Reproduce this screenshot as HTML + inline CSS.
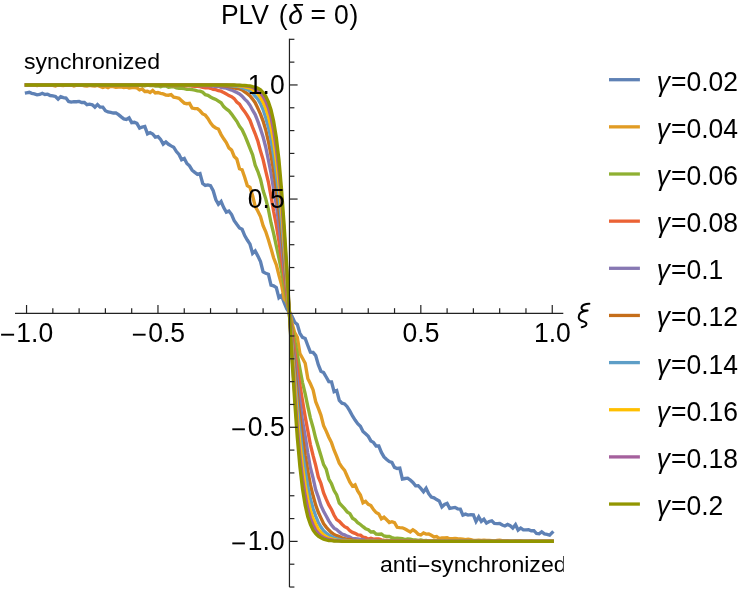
<!DOCTYPE html>
<html><head><meta charset="utf-8"><title>PLV</title>
<style>
html,body{margin:0;padding:0;background:#fff;}
body{width:747px;height:590px;overflow:hidden;font-family:"Liberation Sans",sans-serif;}
svg{display:block;will-change:transform;}
text{font-family:"Liberation Sans",sans-serif;fill:#000;}
</style></head><body>
<svg width="747" height="590" viewBox="0 0 747 590">
<defs><clipPath id="cp"><rect x="14" y="38" width="549.7" height="552"/></clipPath></defs>
<rect width="747" height="590" fill="#fff"/>
<g fill="none" stroke-width="3.35" stroke-linejoin="miter" stroke-linecap="square" clip-path="url(#cp)">
<path d="M26.5 92.8 L29.2 92.3 L31.8 93.4 L34.4 93.9 L37.1 94.9 L39.7 94.5 L42.3 93.3 L44.9 94.5 L47.6 94.2 L50.2 95.5 L52.8 95.8 L55.5 96.5 L58.1 99.2 L60.7 96.6 L63.3 97.6 L66.0 98.1 L68.6 101.5 L71.2 102.1 L73.9 101.6 L76.5 101.7 L79.1 101.4 L81.7 102.5 L84.4 102.4 L87.0 104.7 L89.6 104.2 L92.3 104.8 L94.9 107.1 L97.5 104.6 L100.1 107.1 L102.8 107.1 L105.4 110.7 L108.0 111.9 L110.7 112.3 L113.3 113.0 L115.9 112.9 L118.5 114.6 L121.2 116.9 L123.8 118.9 L126.4 119.5 L129.1 117.9 L131.7 122.6 L134.3 122.3 L136.9 123.4 L139.6 128.1 L142.2 127.0 L144.8 126.4 L147.5 133.9 L150.1 132.6 L152.7 134.0 L155.3 137.1 L158.0 136.6 L160.6 139.5 L163.2 144.1 L165.9 141.9 L168.5 144.3 L171.1 145.9 L173.7 147.2 L176.4 151.6 L179.0 154.4 L181.6 159.7 L184.3 158.4 L186.9 163.4 L189.5 165.8 L192.1 170.2 L194.8 172.4 L197.4 174.3 L200.0 173.5 L202.7 183.5 L205.3 185.4 L207.9 184.9 L210.5 185.6 L213.2 190.7 L215.8 199.5 L218.4 204.3 L221.1 201.5 L223.7 207.6 L226.3 212.1 L228.9 211.1 L231.6 214.6 L234.2 220.6 L236.8 224.3 L239.5 227.9 L242.1 229.3 L244.7 235.6 L247.3 240.0 L250.0 244.2 L252.6 253.4 L255.2 251.0 L257.9 256.1 L260.5 261.5 L263.1 271.9 L265.7 273.2 L268.4 274.2 L271.0 285.1 L273.6 285.8 L276.3 287.5 L278.9 297.7 L281.5 295.4 L284.1 302.5 L286.8 308.9 L289.4 312.4 L292.0 316.3 L294.7 322.2 L297.3 324.4 L299.9 333.3 L302.5 337.4 L305.2 338.5 L307.8 345.5 L310.4 352.2 L313.1 352.4 L315.7 355.6 L318.3 364.6 L320.9 371.2 L323.6 372.6 L326.2 377.0 L328.8 381.6 L331.5 381.9 L334.1 391.7 L336.7 390.5 L339.3 400.4 L342.0 403.2 L344.6 403.9 L347.2 406.7 L349.9 411.1 L352.5 416.0 L355.1 420.1 L357.7 423.7 L360.4 426.3 L363.0 431.4 L365.6 433.8 L368.3 436.4 L370.9 440.9 L373.5 442.4 L376.1 446.0 L378.8 446.0 L381.4 452.4 L384.0 456.9 L386.7 459.5 L389.3 461.5 L391.9 462.3 L394.5 467.4 L397.2 468.5 L399.8 468.1 L402.4 479.1 L405.1 478.5 L407.7 478.2 L410.3 480.0 L412.9 482.5 L415.6 485.8 L418.2 485.7 L420.8 488.4 L423.5 491.7 L426.1 488.2 L428.7 493.7 L431.3 497.0 L434.0 497.8 L436.6 499.6 L439.2 500.9 L441.9 506.9 L444.5 504.5 L447.1 503.4 L449.7 508.3 L452.4 507.8 L455.0 507.4 L457.6 508.8 L460.3 509.0 L462.9 515.1 L465.5 514.1 L468.1 515.1 L470.8 514.7 L473.4 514.9 L476.0 521.5 L478.7 516.8 L481.3 521.4 L483.9 519.2 L486.5 523.1 L489.2 521.5 L491.8 520.8 L494.4 523.4 L497.1 523.6 L499.7 523.5 L502.3 525.0 L504.9 526.0 L507.6 524.5 L510.2 525.7 L512.8 528.0 L515.5 524.7 L518.1 530.1 L520.7 528.0 L523.3 529.9 L526.0 529.9 L528.6 529.7 L531.2 530.7 L533.9 530.6 L536.5 533.5 L539.1 533.8 L541.7 531.8 L544.4 533.9 L547.0 534.3 L549.6 535.1 L552.2 532.5" stroke="#5E81B5"/>
<path d="M26.5 85.0 L29.2 85.0 L31.8 85.4 L34.4 85.1 L37.1 85.5 L39.7 85.0 L42.3 85.0 L44.9 85.4 L47.6 85.0 L50.2 85.0 L52.8 85.3 L55.5 85.9 L58.1 85.0 L60.7 85.4 L63.3 85.6 L66.0 85.2 L68.6 85.3 L71.2 85.0 L73.9 85.9 L76.5 85.1 L79.1 85.0 L81.7 85.1 L84.4 85.8 L87.0 86.1 L89.6 85.4 L92.3 85.9 L94.9 86.0 L97.5 85.4 L100.1 86.4 L102.8 87.5 L105.4 86.7 L108.0 87.6 L110.7 86.3 L113.3 86.7 L115.9 87.4 L118.5 87.2 L121.2 86.9 L123.8 87.6 L126.4 87.0 L129.1 88.1 L131.7 87.6 L134.3 87.6 L136.9 87.8 L139.6 89.8 L142.2 89.0 L144.8 91.5 L147.5 91.3 L150.1 92.5 L152.7 90.5 L155.3 93.0 L158.0 92.5 L160.6 93.3 L163.2 93.9 L165.9 95.1 L168.5 95.2 L171.1 94.5 L173.7 97.2 L176.4 97.7 L179.0 98.3 L181.6 100.7 L184.3 103.1 L186.9 103.7 L189.5 103.4 L192.1 108.1 L194.8 108.6 L197.4 108.6 L200.0 110.8 L202.7 113.9 L205.3 115.1 L207.9 118.4 L210.5 122.9 L213.2 126.2 L215.8 128.0 L218.4 129.0 L221.1 134.6 L223.7 138.8 L226.3 142.5 L228.9 147.9 L231.6 150.1 L234.2 156.5 L236.8 159.0 L239.5 168.7 L242.1 169.8 L244.7 177.3 L247.3 185.6 L250.0 187.4 L252.6 195.8 L255.2 206.3 L257.9 211.2 L260.5 216.6 L263.1 225.7 L265.7 231.5 L268.4 239.8 L271.0 248.4 L273.6 257.8 L276.3 264.7 L278.9 275.0 L281.5 284.5 L284.1 298.6 L286.8 302.1 L289.4 310.6 L292.0 323.1 L294.7 332.7 L297.3 337.2 L299.9 353.5 L302.5 358.2 L305.2 363.3 L307.8 378.4 L310.4 383.8 L313.1 389.9 L315.7 401.7 L318.3 408.2 L320.9 415.1 L323.6 425.6 L326.2 431.1 L328.8 437.2 L331.5 442.6 L334.1 450.2 L336.7 456.3 L339.3 463.2 L342.0 467.3 L344.6 470.3 L347.2 476.2 L349.9 482.1 L352.5 486.2 L355.1 484.9 L357.7 490.9 L360.4 495.1 L363.0 502.8 L365.6 501.4 L368.3 504.4 L370.9 505.5 L373.5 509.6 L376.1 512.5 L378.8 513.9 L381.4 518.9 L384.0 517.2 L386.7 519.8 L389.3 522.5 L391.9 521.7 L394.5 522.6 L397.2 527.3 L399.8 527.7 L402.4 527.8 L405.1 529.0 L407.7 530.5 L410.3 531.9 L412.9 529.8 L415.6 531.6 L418.2 534.2 L420.8 535.0 L423.5 533.0 L426.1 534.1 L428.7 534.0 L431.3 535.3 L434.0 537.0 L436.6 536.5 L439.2 538.6 L441.9 537.9 L444.5 537.8 L447.1 537.7 L449.7 538.7 L452.4 538.6 L455.0 538.4 L457.6 538.7 L460.3 538.8 L462.9 539.2 L465.5 539.7 L468.1 539.2 L470.8 539.7 L473.4 540.3 L476.0 540.3 L478.7 540.1 L481.3 540.3 L483.9 540.2 L486.5 540.4 L489.2 540.4 L491.8 540.6 L494.4 541.2 L497.1 540.5 L499.7 540.3 L502.3 540.6 L504.9 540.9 L507.6 540.7 L510.2 541.3 L512.8 541.4 L515.5 541.0 L518.1 541.3 L520.7 540.8 L523.3 541.4 L526.0 541.4 L528.6 541.4 L531.2 540.7 L533.9 541.3 L536.5 541.4 L539.1 541.4 L541.7 541.1 L544.4 541.1 L547.0 541.2 L549.6 540.9 L552.2 541.1" stroke="#E19C24"/>
<path d="M26.5 85.0 L29.2 85.0 L31.8 85.0 L34.4 85.0 L37.1 85.0 L39.7 85.0 L42.3 85.0 L44.9 85.0 L47.6 85.0 L50.2 85.0 L52.8 85.0 L55.5 85.0 L58.1 85.0 L60.7 85.0 L63.3 85.0 L66.0 85.0 L68.6 85.0 L71.2 85.0 L73.9 85.0 L76.5 85.0 L79.1 85.0 L81.7 85.0 L84.4 85.1 L87.0 85.0 L89.6 85.0 L92.3 85.0 L94.9 85.0 L97.5 85.0 L100.1 85.0 L102.8 85.0 L105.4 85.0 L108.0 85.0 L110.7 85.1 L113.3 85.0 L115.9 85.3 L118.5 85.2 L121.2 85.1 L123.8 85.4 L126.4 85.3 L129.1 85.6 L131.7 85.4 L134.3 85.2 L136.9 85.2 L139.6 85.4 L142.2 85.5 L144.8 85.9 L147.5 85.1 L150.1 85.5 L152.7 85.4 L155.3 86.1 L158.0 86.0 L160.6 86.7 L163.2 86.0 L165.9 86.1 L168.5 87.3 L171.1 86.8 L173.7 86.8 L176.4 88.0 L179.0 88.4 L181.6 88.4 L184.3 88.6 L186.9 89.4 L189.5 89.3 L192.1 89.7 L194.8 90.1 L197.4 90.8 L200.0 91.1 L202.7 92.2 L205.3 94.7 L207.9 95.3 L210.5 97.0 L213.2 98.4 L215.8 99.4 L218.4 101.1 L221.1 102.8 L223.7 106.6 L226.3 108.9 L228.9 110.8 L231.6 114.1 L234.2 117.7 L236.8 121.3 L239.5 126.3 L242.1 129.7 L244.7 135.2 L247.3 141.5 L250.0 148.4 L252.6 154.8 L255.2 165.2 L257.9 171.5 L260.5 179.1 L263.1 190.5 L265.7 198.6 L268.4 209.4 L271.0 222.7 L273.6 233.3 L276.3 245.8 L278.9 257.8 L281.5 270.9 L284.1 285.4 L286.8 300.3 L289.4 313.4 L292.0 327.2 L294.7 340.0 L297.3 354.2 L299.9 368.9 L302.5 382.6 L305.2 393.9 L307.8 406.3 L310.4 418.1 L313.1 427.7 L315.7 438.3 L318.3 447.0 L320.9 455.4 L323.6 464.6 L326.2 469.2 L328.8 479.0 L331.5 483.8 L334.1 490.6 L336.7 494.9 L339.3 503.0 L342.0 505.8 L344.6 508.7 L347.2 511.9 L349.9 513.7 L352.5 518.2 L355.1 519.9 L357.7 522.6 L360.4 524.5 L363.0 526.7 L365.6 528.7 L368.3 529.7 L370.9 532.0 L373.5 531.8 L376.1 534.1 L378.8 534.2 L381.4 534.0 L384.0 536.0 L386.7 536.5 L389.3 536.5 L391.9 537.6 L394.5 538.4 L397.2 538.3 L399.8 538.5 L402.4 538.7 L405.1 539.6 L407.7 538.9 L410.3 539.1 L412.9 539.9 L415.6 540.0 L418.2 540.4 L420.8 539.9 L423.5 540.7 L426.1 540.4 L428.7 540.8 L431.3 541.0 L434.0 540.7 L436.6 540.6 L439.2 541.0 L441.9 541.2 L444.5 540.9 L447.1 541.1 L449.7 541.1 L452.4 540.8 L455.0 541.0 L457.6 541.3 L460.3 540.8 L462.9 541.2 L465.5 541.1 L468.1 541.4 L470.8 541.3 L473.4 541.4 L476.0 541.0 L478.7 541.1 L481.3 541.4 L483.9 541.4 L486.5 541.4 L489.2 541.2 L491.8 541.4 L494.4 541.4 L497.1 541.4 L499.7 541.4 L502.3 541.4 L504.9 541.4 L507.6 541.4 L510.2 541.4 L512.8 541.3 L515.5 541.3 L518.1 541.4 L520.7 541.4 L523.3 541.4 L526.0 541.4 L528.6 541.3 L531.2 541.3 L533.9 541.4 L536.5 541.4 L539.1 541.4 L541.7 541.4 L544.4 541.4 L547.0 541.4 L549.6 541.4 L552.2 541.4" stroke="#8FB032"/>
<path d="M26.5 85.0 L29.2 85.0 L31.8 85.0 L34.4 85.0 L37.1 85.0 L39.7 85.0 L42.3 85.0 L44.9 85.0 L47.6 85.0 L50.2 85.0 L52.8 85.0 L55.5 85.0 L58.1 85.0 L60.7 85.0 L63.3 85.0 L66.0 85.0 L68.6 85.0 L71.2 85.0 L73.9 85.0 L76.5 85.0 L79.1 85.0 L81.7 85.0 L84.4 85.0 L87.0 85.0 L89.6 85.0 L92.3 85.0 L94.9 85.0 L97.5 85.0 L100.1 85.0 L102.8 85.0 L105.4 85.0 L108.0 85.0 L110.7 85.0 L113.3 85.0 L115.9 85.0 L118.5 85.0 L121.2 85.0 L123.8 85.0 L126.4 85.0 L129.1 85.0 L131.7 85.0 L134.3 85.0 L136.9 85.0 L139.6 85.1 L142.2 85.0 L144.8 85.0 L147.5 85.2 L150.1 85.0 L152.7 85.1 L155.3 85.0 L158.0 85.0 L160.6 85.3 L163.2 85.2 L165.9 85.0 L168.5 85.3 L171.1 85.4 L173.7 85.5 L176.4 85.6 L179.0 85.4 L181.6 85.2 L184.3 85.5 L186.9 85.7 L189.5 85.4 L192.1 86.2 L194.8 86.4 L197.4 86.3 L200.0 86.6 L202.7 87.3 L205.3 87.8 L207.9 87.7 L210.5 88.3 L213.2 89.4 L215.8 89.7 L218.4 90.7 L221.1 91.2 L223.7 92.6 L226.3 93.9 L228.9 95.6 L231.6 96.7 L234.2 98.6 L236.8 102.0 L239.5 104.1 L242.1 108.4 L244.7 111.7 L247.3 115.7 L250.0 120.3 L252.6 127.4 L255.2 133.8 L257.9 141.2 L260.5 151.1 L263.1 159.6 L265.7 170.9 L268.4 182.0 L271.0 196.3 L273.6 211.3 L276.3 224.9 L278.9 241.0 L281.5 258.9 L284.1 275.4 L286.8 294.8 L289.4 313.8 L292.0 331.3 L294.7 351.6 L297.3 368.6 L299.9 385.1 L302.5 400.7 L305.2 416.9 L307.8 430.7 L310.4 444.6 L313.1 455.7 L315.7 465.4 L318.3 476.9 L320.9 483.2 L323.6 493.0 L326.2 499.2 L328.8 504.9 L331.5 509.5 L334.1 515.3 L336.7 519.6 L339.3 521.4 L342.0 524.2 L344.6 526.7 L347.2 527.9 L349.9 530.8 L352.5 532.4 L355.1 533.4 L357.7 534.8 L360.4 535.2 L363.0 537.2 L365.6 537.5 L368.3 539.1 L370.9 538.3 L373.5 539.1 L376.1 539.0 L378.8 539.0 L381.4 539.9 L384.0 540.2 L386.7 540.4 L389.3 540.7 L391.9 540.7 L394.5 540.6 L397.2 540.8 L399.8 540.9 L402.4 541.0 L405.1 540.9 L407.7 541.0 L410.3 541.2 L412.9 541.1 L415.6 541.2 L418.2 541.4 L420.8 541.1 L423.5 541.2 L426.1 541.4 L428.7 541.2 L431.3 541.3 L434.0 541.4 L436.6 541.2 L439.2 541.3 L441.9 541.3 L444.5 541.3 L447.1 541.4 L449.7 541.4 L452.4 541.3 L455.0 541.4 L457.6 541.4 L460.3 541.4 L462.9 541.4 L465.5 541.3 L468.1 541.4 L470.8 541.4 L473.4 541.4 L476.0 541.4 L478.7 541.4 L481.3 541.3 L483.9 541.4 L486.5 541.4 L489.2 541.3 L491.8 541.4 L494.4 541.4 L497.1 541.3 L499.7 541.4 L502.3 541.4 L504.9 541.4 L507.6 541.4 L510.2 541.4 L512.8 541.4 L515.5 541.4 L518.1 541.3 L520.7 541.4 L523.3 541.4 L526.0 541.4 L528.6 541.4 L531.2 541.4 L533.9 541.4 L536.5 541.4 L539.1 541.4 L541.7 541.4 L544.4 541.4 L547.0 541.4 L549.6 541.4 L552.2 541.4" stroke="#EB6235"/>
<path d="M26.5 85.0 L29.2 85.0 L31.8 85.0 L34.4 85.0 L37.1 85.0 L39.7 85.0 L42.3 85.0 L44.9 85.0 L47.6 85.0 L50.2 85.0 L52.8 85.0 L55.5 85.0 L58.1 85.0 L60.7 85.0 L63.3 85.0 L66.0 85.0 L68.6 85.0 L71.2 85.0 L73.9 85.0 L76.5 85.0 L79.1 85.0 L81.7 85.0 L84.4 85.0 L87.0 85.0 L89.6 85.0 L92.3 85.0 L94.9 85.0 L97.5 85.0 L100.1 85.0 L102.8 85.0 L105.4 85.0 L108.0 85.0 L110.7 85.0 L113.3 85.0 L115.9 85.0 L118.5 85.0 L121.2 85.0 L123.8 85.0 L126.4 85.0 L129.1 85.0 L131.7 85.0 L134.3 85.0 L136.9 85.0 L139.6 85.0 L142.2 85.0 L144.8 85.0 L147.5 85.0 L150.1 85.0 L152.7 85.0 L155.3 85.0 L158.0 85.0 L160.6 85.1 L163.2 85.0 L165.9 85.0 L168.5 85.0 L171.1 85.0 L173.7 85.0 L176.4 85.0 L179.0 85.0 L181.6 85.1 L184.3 85.0 L186.9 85.2 L189.5 85.2 L192.1 85.0 L194.8 85.2 L197.4 85.3 L200.0 85.6 L202.7 85.6 L205.3 85.6 L207.9 85.6 L210.5 85.9 L213.2 86.1 L215.8 86.5 L218.4 86.5 L221.1 87.3 L223.7 87.8 L226.3 88.1 L228.9 89.1 L231.6 90.1 L234.2 91.3 L236.8 92.6 L239.5 94.0 L242.1 96.1 L244.7 99.2 L247.3 101.6 L250.0 105.3 L252.6 110.2 L255.2 114.6 L257.9 121.4 L260.5 128.9 L263.1 137.0 L265.7 147.0 L268.4 160.0 L271.0 173.0 L273.6 189.2 L276.3 204.4 L278.9 225.2 L281.5 244.6 L284.1 267.7 L286.8 289.4 L289.4 311.5 L292.0 338.2 L294.7 359.4 L297.3 380.5 L299.9 401.5 L302.5 420.9 L305.2 436.3 L307.8 453.1 L310.4 467.7 L313.1 478.1 L315.7 489.8 L318.3 497.0 L320.9 505.4 L323.6 511.3 L326.2 516.0 L328.8 520.9 L331.5 525.1 L334.1 528.2 L336.7 529.6 L339.3 531.9 L342.0 534.1 L344.6 534.9 L347.2 536.2 L349.9 537.1 L352.5 538.6 L355.1 538.7 L357.7 538.9 L360.4 539.4 L363.0 539.7 L365.6 540.6 L368.3 540.4 L370.9 540.5 L373.5 540.3 L376.1 541.0 L378.8 541.0 L381.4 541.0 L384.0 541.0 L386.7 541.2 L389.3 541.1 L391.9 541.3 L394.5 541.2 L397.2 541.3 L399.8 541.3 L402.4 541.4 L405.1 541.4 L407.7 541.3 L410.3 541.3 L412.9 541.4 L415.6 541.4 L418.2 541.3 L420.8 541.4 L423.5 541.4 L426.1 541.4 L428.7 541.4 L431.3 541.4 L434.0 541.4 L436.6 541.3 L439.2 541.4 L441.9 541.4 L444.5 541.4 L447.1 541.4 L449.7 541.4 L452.4 541.4 L455.0 541.4 L457.6 541.4 L460.3 541.4 L462.9 541.4 L465.5 541.4 L468.1 541.4 L470.8 541.4 L473.4 541.4 L476.0 541.4 L478.7 541.4 L481.3 541.4 L483.9 541.4 L486.5 541.4 L489.2 541.4 L491.8 541.4 L494.4 541.4 L497.1 541.4 L499.7 541.4 L502.3 541.4 L504.9 541.4 L507.6 541.4 L510.2 541.4 L512.8 541.4 L515.5 541.4 L518.1 541.4 L520.7 541.4 L523.3 541.4 L526.0 541.4 L528.6 541.4 L531.2 541.4 L533.9 541.4 L536.5 541.4 L539.1 541.4 L541.7 541.4 L544.4 541.4 L547.0 541.4 L549.6 541.4 L552.2 541.4" stroke="#8778B3"/>
<path d="M26.5 85.0 L29.2 85.0 L31.8 85.0 L34.4 85.0 L37.1 85.0 L39.7 85.0 L42.3 85.0 L44.9 85.0 L47.6 85.0 L50.2 85.0 L52.8 85.0 L55.5 85.0 L58.1 85.0 L60.7 85.0 L63.3 85.0 L66.0 85.0 L68.6 85.0 L71.2 85.0 L73.9 85.0 L76.5 85.0 L79.1 85.0 L81.7 85.0 L84.4 85.0 L87.0 85.0 L89.6 85.0 L92.3 85.0 L94.9 85.0 L97.5 85.0 L100.1 85.0 L102.8 85.0 L105.4 85.0 L108.0 85.0 L110.7 85.0 L113.3 85.0 L115.9 85.0 L118.5 85.0 L121.2 85.0 L123.8 85.0 L126.4 85.0 L129.1 85.0 L131.7 85.0 L134.3 85.0 L136.9 85.0 L139.6 85.0 L142.2 85.0 L144.8 85.0 L147.5 85.0 L150.1 85.0 L152.7 85.0 L155.3 85.0 L158.0 85.0 L160.6 85.0 L163.2 85.0 L165.9 85.0 L168.5 85.0 L171.1 85.0 L173.7 85.0 L176.4 85.0 L179.0 85.0 L181.6 85.0 L184.3 85.0 L186.9 85.0 L189.5 85.0 L192.1 85.1 L194.8 85.1 L197.4 85.2 L200.0 85.1 L202.7 85.1 L205.3 85.1 L207.9 85.2 L210.5 85.3 L213.2 85.2 L215.8 85.4 L218.4 85.5 L221.1 85.7 L223.7 85.9 L226.3 86.0 L228.9 86.7 L231.6 87.1 L234.2 87.8 L236.8 88.5 L239.5 88.9 L242.1 90.0 L244.7 91.9 L247.3 93.7 L250.0 95.9 L252.6 99.1 L255.2 102.7 L257.9 108.4 L260.5 114.1 L263.1 121.1 L265.7 129.7 L268.4 141.3 L271.0 155.1 L273.6 170.5 L276.3 189.0 L278.9 210.1 L281.5 232.1 L284.1 258.8 L286.8 285.4 L289.4 311.9 L292.0 340.3 L294.7 367.8 L297.3 393.7 L299.9 416.5 L302.5 436.8 L305.2 455.7 L307.8 471.1 L310.4 484.9 L313.1 495.8 L315.7 505.1 L318.3 512.3 L320.9 517.9 L323.6 523.7 L326.2 527.1 L328.8 530.0 L331.5 532.6 L334.1 534.5 L336.7 535.7 L339.3 536.6 L342.0 537.9 L344.6 538.7 L347.2 539.6 L349.9 539.4 L352.5 540.1 L355.1 540.4 L357.7 540.8 L360.4 540.8 L363.0 541.0 L365.6 541.0 L368.3 541.0 L370.9 541.2 L373.5 541.2 L376.1 541.3 L378.8 541.2 L381.4 541.3 L384.0 541.4 L386.7 541.3 L389.3 541.4 L391.9 541.4 L394.5 541.4 L397.2 541.4 L399.8 541.4 L402.4 541.4 L405.1 541.3 L407.7 541.4 L410.3 541.4 L412.9 541.4 L415.6 541.4 L418.2 541.4 L420.8 541.4 L423.5 541.4 L426.1 541.4 L428.7 541.4 L431.3 541.4 L434.0 541.4 L436.6 541.4 L439.2 541.4 L441.9 541.4 L444.5 541.4 L447.1 541.4 L449.7 541.4 L452.4 541.4 L455.0 541.4 L457.6 541.4 L460.3 541.4 L462.9 541.4 L465.5 541.4 L468.1 541.4 L470.8 541.4 L473.4 541.4 L476.0 541.4 L478.7 541.4 L481.3 541.4 L483.9 541.4 L486.5 541.4 L489.2 541.4 L491.8 541.4 L494.4 541.4 L497.1 541.4 L499.7 541.4 L502.3 541.4 L504.9 541.4 L507.6 541.4 L510.2 541.4 L512.8 541.4 L515.5 541.4 L518.1 541.4 L520.7 541.4 L523.3 541.4 L526.0 541.4 L528.6 541.4 L531.2 541.4 L533.9 541.4 L536.5 541.4 L539.1 541.4 L541.7 541.4 L544.4 541.4 L547.0 541.4 L549.6 541.4 L552.2 541.4" stroke="#C56E1A"/>
<path d="M26.5 85.0 L29.2 85.0 L31.8 85.0 L34.4 85.0 L37.1 85.0 L39.7 85.0 L42.3 85.0 L44.9 85.0 L47.6 85.0 L50.2 85.0 L52.8 85.0 L55.5 85.0 L58.1 85.0 L60.7 85.0 L63.3 85.0 L66.0 85.0 L68.6 85.0 L71.2 85.0 L73.9 85.0 L76.5 85.0 L79.1 85.0 L81.7 85.0 L84.4 85.0 L87.0 85.0 L89.6 85.0 L92.3 85.0 L94.9 85.0 L97.5 85.0 L100.1 85.0 L102.8 85.0 L105.4 85.0 L108.0 85.0 L110.7 85.0 L113.3 85.0 L115.9 85.0 L118.5 85.0 L121.2 85.0 L123.8 85.0 L126.4 85.0 L129.1 85.0 L131.7 85.0 L134.3 85.0 L136.9 85.0 L139.6 85.0 L142.2 85.0 L144.8 85.0 L147.5 85.0 L150.1 85.0 L152.7 85.0 L155.3 85.0 L158.0 85.0 L160.6 85.0 L163.2 85.0 L165.9 85.0 L168.5 85.0 L171.1 85.0 L173.7 85.0 L176.4 85.0 L179.0 85.0 L181.6 85.0 L184.3 85.0 L186.9 85.0 L189.5 85.0 L192.1 85.0 L194.8 85.0 L197.4 85.0 L200.0 85.0 L202.7 85.0 L205.3 85.0 L207.9 85.0 L210.5 85.1 L213.2 85.0 L215.8 85.1 L218.4 85.1 L221.1 85.3 L223.7 85.3 L226.3 85.4 L228.9 85.7 L231.6 85.9 L234.2 86.0 L236.8 86.3 L239.5 86.7 L242.1 87.7 L244.7 88.7 L247.3 89.5 L250.0 91.0 L252.6 93.1 L255.2 96.1 L257.9 99.1 L260.5 103.6 L263.1 109.6 L265.7 117.5 L268.4 127.0 L271.0 139.1 L273.6 154.9 L276.3 174.0 L278.9 195.2 L281.5 220.8 L284.1 249.7 L286.8 280.4 L289.4 313.4 L292.0 345.6 L294.7 376.8 L297.3 405.1 L299.9 430.3 L302.5 453.2 L305.2 470.9 L307.8 486.4 L310.4 499.0 L313.1 508.8 L315.7 516.1 L318.3 522.5 L320.9 527.1 L323.6 530.8 L326.2 533.1 L328.8 534.9 L331.5 536.6 L334.1 537.8 L336.7 538.8 L339.3 539.4 L342.0 540.1 L344.6 540.1 L347.2 540.6 L349.9 540.9 L352.5 541.0 L355.1 541.1 L357.7 541.1 L360.4 541.1 L363.0 541.3 L365.6 541.2 L368.3 541.3 L370.9 541.4 L373.5 541.4 L376.1 541.4 L378.8 541.4 L381.4 541.4 L384.0 541.4 L386.7 541.4 L389.3 541.4 L391.9 541.4 L394.5 541.4 L397.2 541.4 L399.8 541.4 L402.4 541.4 L405.1 541.4 L407.7 541.4 L410.3 541.4 L412.9 541.4 L415.6 541.4 L418.2 541.4 L420.8 541.4 L423.5 541.4 L426.1 541.4 L428.7 541.4 L431.3 541.4 L434.0 541.4 L436.6 541.4 L439.2 541.4 L441.9 541.4 L444.5 541.4 L447.1 541.4 L449.7 541.4 L452.4 541.4 L455.0 541.4 L457.6 541.4 L460.3 541.4 L462.9 541.4 L465.5 541.4 L468.1 541.4 L470.8 541.4 L473.4 541.4 L476.0 541.4 L478.7 541.4 L481.3 541.4 L483.9 541.4 L486.5 541.4 L489.2 541.4 L491.8 541.4 L494.4 541.4 L497.1 541.4 L499.7 541.4 L502.3 541.4 L504.9 541.4 L507.6 541.4 L510.2 541.4 L512.8 541.4 L515.5 541.4 L518.1 541.4 L520.7 541.4 L523.3 541.4 L526.0 541.4 L528.6 541.4 L531.2 541.4 L533.9 541.4 L536.5 541.4 L539.1 541.4 L541.7 541.4 L544.4 541.4 L547.0 541.4 L549.6 541.4 L552.2 541.4" stroke="#5D9EC7"/>
<path d="M26.5 85.0 L29.2 85.0 L31.8 85.0 L34.4 85.0 L37.1 85.0 L39.7 85.0 L42.3 85.0 L44.9 85.0 L47.6 85.0 L50.2 85.0 L52.8 85.0 L55.5 85.0 L58.1 85.0 L60.7 85.0 L63.3 85.0 L66.0 85.0 L68.6 85.0 L71.2 85.0 L73.9 85.0 L76.5 85.0 L79.1 85.0 L81.7 85.0 L84.4 85.0 L87.0 85.0 L89.6 85.0 L92.3 85.0 L94.9 85.0 L97.5 85.0 L100.1 85.0 L102.8 85.0 L105.4 85.0 L108.0 85.0 L110.7 85.0 L113.3 85.0 L115.9 85.0 L118.5 85.0 L121.2 85.0 L123.8 85.0 L126.4 85.0 L129.1 85.0 L131.7 85.0 L134.3 85.0 L136.9 85.0 L139.6 85.0 L142.2 85.0 L144.8 85.0 L147.5 85.0 L150.1 85.0 L152.7 85.0 L155.3 85.0 L158.0 85.0 L160.6 85.0 L163.2 85.0 L165.9 85.0 L168.5 85.0 L171.1 85.0 L173.7 85.0 L176.4 85.0 L179.0 85.0 L181.6 85.0 L184.3 85.0 L186.9 85.0 L189.5 85.0 L192.1 85.0 L194.8 85.0 L197.4 85.0 L200.0 85.0 L202.7 85.0 L205.3 85.0 L207.9 85.0 L210.5 85.0 L213.2 85.0 L215.8 85.0 L218.4 85.0 L221.1 85.1 L223.7 85.1 L226.3 85.1 L228.9 85.2 L231.6 85.3 L234.2 85.5 L236.8 85.6 L239.5 86.0 L242.1 86.2 L244.7 86.9 L247.3 87.5 L250.0 88.1 L252.6 89.6 L255.2 91.6 L257.9 93.8 L260.5 97.4 L263.1 102.1 L265.7 108.1 L268.4 116.0 L271.0 127.0 L273.6 141.4 L276.3 159.9 L278.9 182.6 L281.5 209.1 L284.1 241.1 L286.8 276.6 L289.4 313.9 L292.0 350.6 L294.7 384.2 L297.3 417.2 L299.9 444.1 L302.5 466.7 L305.2 485.0 L307.8 499.3 L310.4 510.5 L313.1 518.7 L315.7 524.2 L318.3 529.3 L320.9 532.3 L323.6 535.2 L326.2 536.7 L328.8 538.0 L331.5 538.8 L334.1 539.7 L336.7 540.1 L339.3 540.4 L342.0 540.8 L344.6 540.9 L347.2 541.1 L349.9 541.2 L352.5 541.2 L355.1 541.4 L357.7 541.3 L360.4 541.4 L363.0 541.4 L365.6 541.4 L368.3 541.3 L370.9 541.4 L373.5 541.3 L376.1 541.4 L378.8 541.4 L381.4 541.4 L384.0 541.4 L386.7 541.4 L389.3 541.4 L391.9 541.4 L394.5 541.4 L397.2 541.4 L399.8 541.4 L402.4 541.4 L405.1 541.4 L407.7 541.4 L410.3 541.4 L412.9 541.4 L415.6 541.4 L418.2 541.4 L420.8 541.4 L423.5 541.4 L426.1 541.4 L428.7 541.4 L431.3 541.4 L434.0 541.4 L436.6 541.4 L439.2 541.4 L441.9 541.4 L444.5 541.4 L447.1 541.4 L449.7 541.4 L452.4 541.4 L455.0 541.4 L457.6 541.4 L460.3 541.4 L462.9 541.4 L465.5 541.4 L468.1 541.4 L470.8 541.4 L473.4 541.4 L476.0 541.4 L478.7 541.4 L481.3 541.4 L483.9 541.4 L486.5 541.4 L489.2 541.4 L491.8 541.4 L494.4 541.4 L497.1 541.4 L499.7 541.4 L502.3 541.4 L504.9 541.4 L507.6 541.4 L510.2 541.4 L512.8 541.4 L515.5 541.4 L518.1 541.4 L520.7 541.4 L523.3 541.4 L526.0 541.4 L528.6 541.4 L531.2 541.4 L533.9 541.4 L536.5 541.4 L539.1 541.4 L541.7 541.4 L544.4 541.4 L547.0 541.4 L549.6 541.4 L552.2 541.4" stroke="#FFBF00"/>
<path d="M26.5 85.0 L29.2 85.0 L31.8 85.0 L34.4 85.0 L37.1 85.0 L39.7 85.0 L42.3 85.0 L44.9 85.0 L47.6 85.0 L50.2 85.0 L52.8 85.0 L55.5 85.0 L58.1 85.0 L60.7 85.0 L63.3 85.0 L66.0 85.0 L68.6 85.0 L71.2 85.0 L73.9 85.0 L76.5 85.0 L79.1 85.0 L81.7 85.0 L84.4 85.0 L87.0 85.0 L89.6 85.0 L92.3 85.0 L94.9 85.0 L97.5 85.0 L100.1 85.0 L102.8 85.0 L105.4 85.0 L108.0 85.0 L110.7 85.0 L113.3 85.0 L115.9 85.0 L118.5 85.0 L121.2 85.0 L123.8 85.0 L126.4 85.0 L129.1 85.0 L131.7 85.0 L134.3 85.0 L136.9 85.0 L139.6 85.0 L142.2 85.0 L144.8 85.0 L147.5 85.0 L150.1 85.0 L152.7 85.0 L155.3 85.0 L158.0 85.0 L160.6 85.0 L163.2 85.0 L165.9 85.0 L168.5 85.0 L171.1 85.0 L173.7 85.0 L176.4 85.0 L179.0 85.0 L181.6 85.0 L184.3 85.0 L186.9 85.0 L189.5 85.0 L192.1 85.0 L194.8 85.0 L197.4 85.0 L200.0 85.0 L202.7 85.0 L205.3 85.0 L207.9 85.0 L210.5 85.0 L213.2 85.0 L215.8 85.0 L218.4 85.0 L221.1 85.0 L223.7 85.0 L226.3 85.0 L228.9 85.1 L231.6 85.1 L234.2 85.2 L236.8 85.3 L239.5 85.4 L242.1 85.7 L244.7 85.9 L247.3 86.2 L250.0 86.7 L252.6 87.5 L255.2 88.8 L257.9 90.6 L260.5 93.0 L263.1 96.4 L265.7 101.1 L268.4 107.9 L271.0 117.1 L273.6 130.3 L276.3 148.0 L278.9 170.0 L281.5 198.5 L284.1 232.9 L286.8 271.9 L289.4 313.7 L292.0 354.9 L294.7 393.1 L297.3 427.8 L299.9 456.3 L302.5 478.6 L305.2 495.9 L307.8 508.8 L310.4 518.3 L313.1 525.0 L315.7 530.2 L318.3 533.4 L320.9 536.0 L323.6 537.5 L326.2 538.7 L328.8 539.5 L331.5 540.0 L334.1 540.5 L336.7 540.7 L339.3 540.9 L342.0 541.1 L344.6 541.2 L347.2 541.3 L349.9 541.3 L352.5 541.3 L355.1 541.3 L357.7 541.3 L360.4 541.4 L363.0 541.4 L365.6 541.4 L368.3 541.4 L370.9 541.4 L373.5 541.4 L376.1 541.4 L378.8 541.4 L381.4 541.4 L384.0 541.4 L386.7 541.4 L389.3 541.4 L391.9 541.4 L394.5 541.4 L397.2 541.4 L399.8 541.4 L402.4 541.4 L405.1 541.4 L407.7 541.4 L410.3 541.4 L412.9 541.4 L415.6 541.4 L418.2 541.4 L420.8 541.4 L423.5 541.4 L426.1 541.4 L428.7 541.4 L431.3 541.4 L434.0 541.4 L436.6 541.4 L439.2 541.4 L441.9 541.4 L444.5 541.4 L447.1 541.4 L449.7 541.4 L452.4 541.4 L455.0 541.4 L457.6 541.4 L460.3 541.4 L462.9 541.4 L465.5 541.4 L468.1 541.4 L470.8 541.4 L473.4 541.4 L476.0 541.4 L478.7 541.4 L481.3 541.4 L483.9 541.4 L486.5 541.4 L489.2 541.4 L491.8 541.4 L494.4 541.4 L497.1 541.4 L499.7 541.4 L502.3 541.4 L504.9 541.4 L507.6 541.4 L510.2 541.4 L512.8 541.4 L515.5 541.4 L518.1 541.4 L520.7 541.4 L523.3 541.4 L526.0 541.4 L528.6 541.4 L531.2 541.4 L533.9 541.4 L536.5 541.4 L539.1 541.4 L541.7 541.4 L544.4 541.4 L547.0 541.4 L549.6 541.4 L552.2 541.4" stroke="#A5609D"/>
<path d="M26.5 85.0 L29.2 85.0 L31.8 85.0 L34.4 85.0 L37.1 85.0 L39.7 85.0 L42.3 85.0 L44.9 85.0 L47.6 85.0 L50.2 85.0 L52.8 85.0 L55.5 85.0 L58.1 85.0 L60.7 85.0 L63.3 85.0 L66.0 85.0 L68.6 85.0 L71.2 85.0 L73.9 85.0 L76.5 85.0 L79.1 85.0 L81.7 85.0 L84.4 85.0 L87.0 85.0 L89.6 85.0 L92.3 85.0 L94.9 85.0 L97.5 85.0 L100.1 85.0 L102.8 85.0 L105.4 85.0 L108.0 85.0 L110.7 85.0 L113.3 85.0 L115.9 85.0 L118.5 85.0 L121.2 85.0 L123.8 85.0 L126.4 85.0 L129.1 85.0 L131.7 85.0 L134.3 85.0 L136.9 85.0 L139.6 85.0 L142.2 85.0 L144.8 85.0 L147.5 85.0 L150.1 85.0 L152.7 85.0 L155.3 85.0 L158.0 85.0 L160.6 85.0 L163.2 85.0 L165.9 85.0 L168.5 85.0 L171.1 85.0 L173.7 85.0 L176.4 85.0 L179.0 85.0 L181.6 85.0 L184.3 85.0 L186.9 85.0 L189.5 85.0 L192.1 85.0 L194.8 85.0 L197.4 85.0 L200.0 85.0 L202.7 85.0 L205.3 85.0 L207.9 85.0 L210.5 85.0 L213.2 85.0 L215.8 85.0 L218.4 85.0 L221.1 85.0 L223.7 85.0 L226.3 85.0 L228.9 85.0 L231.6 85.0 L234.2 85.0 L236.8 85.1 L239.5 85.1 L242.1 85.3 L244.7 85.4 L247.3 85.7 L250.0 85.9 L252.6 86.6 L255.2 87.2 L257.9 88.3 L260.5 89.9 L263.1 92.6 L265.7 96.2 L268.4 101.8 L271.0 109.7 L273.6 121.0 L276.3 137.5 L278.9 159.5 L281.5 188.9 L284.1 224.7 L286.8 267.0 L289.4 313.2 L292.0 359.3 L294.7 401.4 L297.3 437.4 L299.9 466.5 L302.5 488.7 L305.2 505.4 L307.8 516.7 L310.4 524.4 L313.1 530.2 L315.7 533.7 L318.3 536.1 L320.9 537.9 L323.6 539.1 L326.2 539.9 L328.8 540.5 L331.5 540.7 L334.1 541.0 L336.7 541.1 L339.3 541.2 L342.0 541.3 L344.6 541.3 L347.2 541.3 L349.9 541.4 L352.5 541.3 L355.1 541.4 L357.7 541.4 L360.4 541.4 L363.0 541.4 L365.6 541.4 L368.3 541.4 L370.9 541.4 L373.5 541.4 L376.1 541.4 L378.8 541.4 L381.4 541.4 L384.0 541.4 L386.7 541.4 L389.3 541.4 L391.9 541.4 L394.5 541.4 L397.2 541.4 L399.8 541.4 L402.4 541.4 L405.1 541.4 L407.7 541.4 L410.3 541.4 L412.9 541.4 L415.6 541.4 L418.2 541.4 L420.8 541.4 L423.5 541.4 L426.1 541.4 L428.7 541.4 L431.3 541.4 L434.0 541.4 L436.6 541.4 L439.2 541.4 L441.9 541.4 L444.5 541.4 L447.1 541.4 L449.7 541.4 L452.4 541.4 L455.0 541.4 L457.6 541.4 L460.3 541.4 L462.9 541.4 L465.5 541.4 L468.1 541.4 L470.8 541.4 L473.4 541.4 L476.0 541.4 L478.7 541.4 L481.3 541.4 L483.9 541.4 L486.5 541.4 L489.2 541.4 L491.8 541.4 L494.4 541.4 L497.1 541.4 L499.7 541.4 L502.3 541.4 L504.9 541.4 L507.6 541.4 L510.2 541.4 L512.8 541.4 L515.5 541.4 L518.1 541.4 L520.7 541.4 L523.3 541.4 L526.0 541.4 L528.6 541.4 L531.2 541.4 L533.9 541.4 L536.5 541.4 L539.1 541.4 L541.7 541.4 L544.4 541.4 L547.0 541.4 L549.6 541.4 L552.2 541.4" stroke="#929600"/>
</g>
<g stroke="#222" stroke-width="1.2" fill="none">
<line x1="15.0" y1="313.40" x2="563.3" y2="313.40"/>
<line x1="289.45" y1="38.8" x2="289.45" y2="587.0"/>
<line x1="26.55" y1="313.17" x2="26.55" y2="304.97"/>
<line x1="52.83" y1="313.17" x2="52.83" y2="308.17"/>
<line x1="79.12" y1="313.17" x2="79.12" y2="308.17"/>
<line x1="105.40" y1="313.17" x2="105.40" y2="308.17"/>
<line x1="131.69" y1="313.17" x2="131.69" y2="308.17"/>
<line x1="157.97" y1="313.17" x2="157.97" y2="304.97"/>
<line x1="184.26" y1="313.17" x2="184.26" y2="308.17"/>
<line x1="210.54" y1="313.17" x2="210.54" y2="308.17"/>
<line x1="236.83" y1="313.17" x2="236.83" y2="308.17"/>
<line x1="263.11" y1="313.17" x2="263.11" y2="308.17"/>
<line x1="315.69" y1="313.17" x2="315.69" y2="308.17"/>
<line x1="341.97" y1="313.17" x2="341.97" y2="308.17"/>
<line x1="368.25" y1="313.17" x2="368.25" y2="308.17"/>
<line x1="394.54" y1="313.17" x2="394.54" y2="308.17"/>
<line x1="420.82" y1="313.17" x2="420.82" y2="304.97"/>
<line x1="447.11" y1="313.17" x2="447.11" y2="308.17"/>
<line x1="473.39" y1="313.17" x2="473.39" y2="308.17"/>
<line x1="499.68" y1="313.17" x2="499.68" y2="308.17"/>
<line x1="525.97" y1="313.17" x2="525.97" y2="308.17"/>
<line x1="552.25" y1="313.17" x2="552.25" y2="304.97"/>
<line x1="289.40" y1="587.03" x2="294.40" y2="587.03"/>
<line x1="289.40" y1="564.21" x2="294.40" y2="564.21"/>
<line x1="289.40" y1="541.39" x2="297.60" y2="541.39"/>
<line x1="289.40" y1="518.57" x2="294.40" y2="518.57"/>
<line x1="289.40" y1="495.75" x2="294.40" y2="495.75"/>
<line x1="289.40" y1="472.92" x2="294.40" y2="472.92"/>
<line x1="289.40" y1="450.10" x2="294.40" y2="450.10"/>
<line x1="289.40" y1="427.28" x2="297.60" y2="427.28"/>
<line x1="289.40" y1="404.46" x2="294.40" y2="404.46"/>
<line x1="289.40" y1="381.64" x2="294.40" y2="381.64"/>
<line x1="289.40" y1="358.81" x2="294.40" y2="358.81"/>
<line x1="289.40" y1="335.99" x2="294.40" y2="335.99"/>
<line x1="289.40" y1="290.35" x2="294.40" y2="290.35"/>
<line x1="289.40" y1="267.53" x2="294.40" y2="267.53"/>
<line x1="289.40" y1="244.70" x2="294.40" y2="244.70"/>
<line x1="289.40" y1="221.88" x2="294.40" y2="221.88"/>
<line x1="289.40" y1="199.06" x2="297.60" y2="199.06"/>
<line x1="289.40" y1="176.24" x2="294.40" y2="176.24"/>
<line x1="289.40" y1="153.42" x2="294.40" y2="153.42"/>
<line x1="289.40" y1="130.59" x2="294.40" y2="130.59"/>
<line x1="289.40" y1="107.77" x2="294.40" y2="107.77"/>
<line x1="289.40" y1="84.95" x2="297.60" y2="84.95"/>
<line x1="289.40" y1="62.13" x2="294.40" y2="62.13"/>
<line x1="289.40" y1="39.31" x2="294.40" y2="39.31"/>
</g>
<g clip-path="url(#cp)">
<text transform="translate(23.96 69.30) scale(1 0.95)" font-size="23.10">synchronized</text>
<text transform="translate(380.02 572.40) scale(1 0.95)" font-size="23.10">anti</text>
<text transform="translate(430.56 572.40) scale(1 0.95)" font-size="23.10">synchronized</text>
<rect x="418.5" y="565.2" width="10.7" height="1.8" fill="#000"/>
</g>
<rect x="1.10" y="333.75" width="13.00" height="1.90" fill="#000"/>
<text transform="translate(16.30 341.60) scale(1 1.045)" font-size="26.50">1.0</text>
<rect x="132.90" y="333.75" width="12.70" height="1.90" fill="#000"/>
<text transform="translate(148.17 341.60) scale(1 1.045)" font-size="26.50">0.5</text>
<text transform="translate(402.57 341.60) scale(1 1.045)" font-size="26.50">0.5</text>
<text transform="translate(534.00 341.60) scale(1 1.045)" font-size="26.50">1.0</text>
<text transform="translate(247.80 93.65) scale(1 1.045)" font-size="26.50">1.0</text>
<text transform="translate(247.87 207.76) scale(1 1.045)" font-size="26.50">0.5</text>
<text transform="translate(247.87 435.98) scale(1 1.045)" font-size="26.50">0.5</text>
<rect x="232.30" y="428.33" width="12.60" height="1.90" fill="#000"/>
<text transform="translate(247.80 550.09) scale(1 1.045)" font-size="26.50">1.0</text>
<rect x="232.30" y="542.44" width="12.60" height="1.90" fill="#000"/>
<path d="M589.4 303.8 C585.6 303.7 581.5 305.0 581.5 308.0 C581.5 310.0 583.2 310.7 587.6 310.6 C582.2 311.1 578.7 313.6 578.7 317.2 C578.7 320.0 581.5 320.9 584.0 321.6 C586.0 322.2 586.6 323.0 586.4 324.4 C586.1 326.0 584.0 326.8 581.7 327.2" fill="none" stroke="#000" stroke-width="2.0" stroke-linecap="round" stroke-linejoin="round"/>
<text transform="translate(220.93 23.80) scale(1 1.045)" font-size="26.50">PLV</text>
<text transform="translate(278.76 23.80) scale(1 1.045)" font-size="26.50">(</text>
<text transform="translate(288.23 23.80) scale(1 1.045)" font-size="26.50" font-style="italic">δ</text>
<text transform="translate(310.61 23.80) scale(1 1.045)" font-size="26.50">=</text>
<text transform="translate(334.06 23.80) scale(1 1.045)" font-size="26.50">0</text>
<text transform="translate(349.44 23.80) scale(1 1.045)" font-size="26.50">)</text>
<text transform="translate(656.66 90.60) scale(1 1.045)" font-size="26.50" font-style="italic">γ</text>
<text transform="translate(671.01 90.60) scale(1 1.045)" font-size="26.50">=0.02</text>
<text transform="translate(656.66 137.75) scale(1 1.045)" font-size="26.50" font-style="italic">γ</text>
<text transform="translate(671.01 137.75) scale(1 1.045)" font-size="26.50">=0.04</text>
<text transform="translate(656.66 184.90) scale(1 1.045)" font-size="26.50" font-style="italic">γ</text>
<text transform="translate(671.01 184.90) scale(1 1.045)" font-size="26.50">=0.06</text>
<text transform="translate(656.66 232.05) scale(1 1.045)" font-size="26.50" font-style="italic">γ</text>
<text transform="translate(671.01 232.05) scale(1 1.045)" font-size="26.50">=0.08</text>
<text transform="translate(656.66 279.20) scale(1 1.045)" font-size="26.50" font-style="italic">γ</text>
<text transform="translate(671.01 279.20) scale(1 1.045)" font-size="26.50">=0.1</text>
<text transform="translate(656.66 326.35) scale(1 1.045)" font-size="26.50" font-style="italic">γ</text>
<text transform="translate(671.01 326.35) scale(1 1.045)" font-size="26.50">=0.12</text>
<text transform="translate(656.66 373.50) scale(1 1.045)" font-size="26.50" font-style="italic">γ</text>
<text transform="translate(671.01 373.50) scale(1 1.045)" font-size="26.50">=0.14</text>
<text transform="translate(656.66 420.65) scale(1 1.045)" font-size="26.50" font-style="italic">γ</text>
<text transform="translate(671.01 420.65) scale(1 1.045)" font-size="26.50">=0.16</text>
<text transform="translate(656.66 467.80) scale(1 1.045)" font-size="26.50" font-style="italic">γ</text>
<text transform="translate(671.01 467.80) scale(1 1.045)" font-size="26.50">=0.18</text>
<text transform="translate(656.66 514.95) scale(1 1.045)" font-size="26.50" font-style="italic">γ</text>
<text transform="translate(671.01 514.95) scale(1 1.045)" font-size="26.50">=0.2</text>
<line x1="609.0" y1="79.70" x2="639.9" y2="79.70" stroke="#5E81B5" stroke-width="3.3"/>
<line x1="609.0" y1="126.85" x2="639.9" y2="126.85" stroke="#E19C24" stroke-width="3.3"/>
<line x1="609.0" y1="174.00" x2="639.9" y2="174.00" stroke="#8FB032" stroke-width="3.3"/>
<line x1="609.0" y1="221.15" x2="639.9" y2="221.15" stroke="#EB6235" stroke-width="3.3"/>
<line x1="609.0" y1="268.30" x2="639.9" y2="268.30" stroke="#8778B3" stroke-width="3.3"/>
<line x1="609.0" y1="315.45" x2="639.9" y2="315.45" stroke="#C56E1A" stroke-width="3.3"/>
<line x1="609.0" y1="362.60" x2="639.9" y2="362.60" stroke="#5D9EC7" stroke-width="3.3"/>
<line x1="609.0" y1="409.75" x2="639.9" y2="409.75" stroke="#FFBF00" stroke-width="3.3"/>
<line x1="609.0" y1="456.90" x2="639.9" y2="456.90" stroke="#A5609D" stroke-width="3.3"/>
<line x1="609.0" y1="504.05" x2="639.9" y2="504.05" stroke="#929600" stroke-width="3.3"/>
</svg>
</body></html>
